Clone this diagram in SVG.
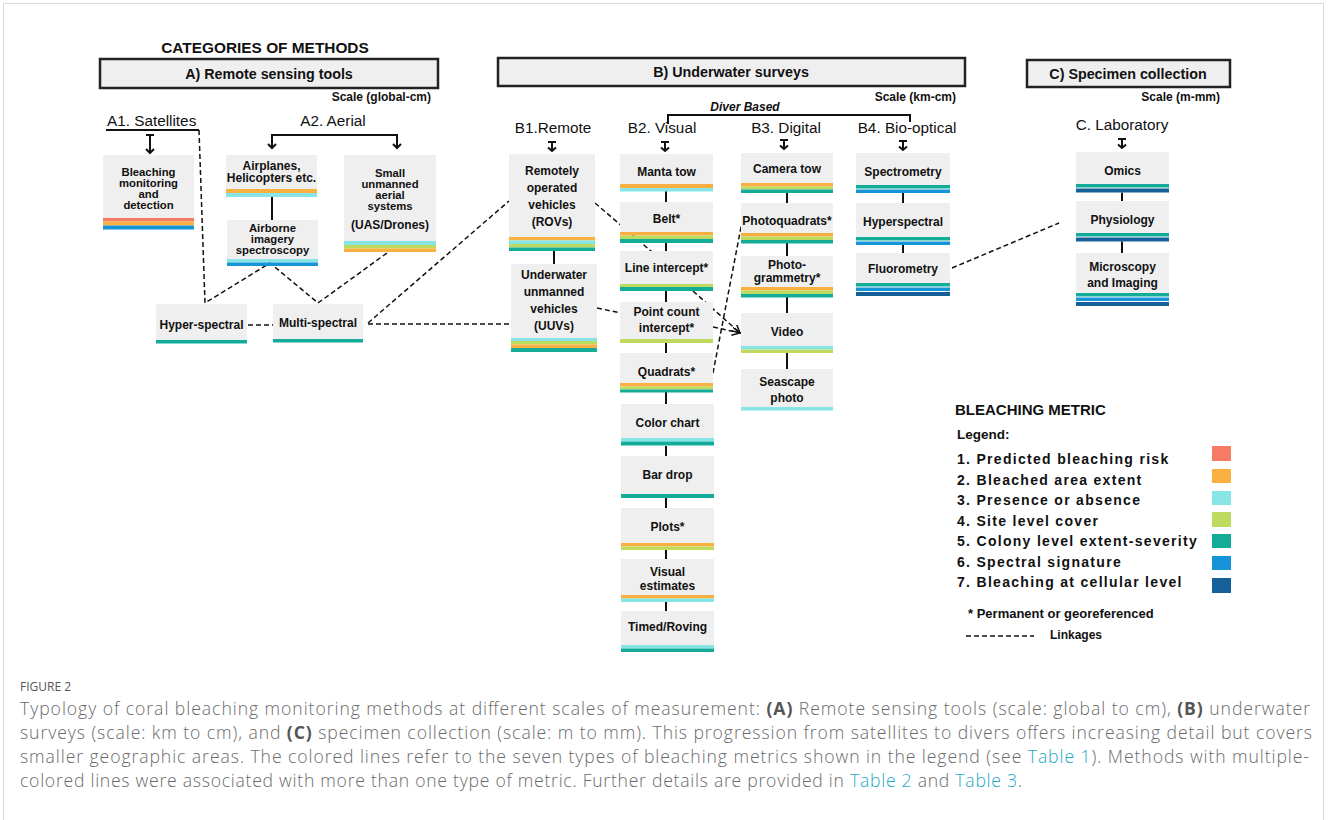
<svg xmlns="http://www.w3.org/2000/svg" width="1328" height="820" viewBox="0 0 1328 820">
<style>
.bx{fill:#efefef}
.hd{fill:#efefef;stroke:#222;stroke-width:2.5}
.t{font-family:"Liberation Sans",Arial,sans-serif;font-weight:bold;font-size:12px;fill:#111;text-anchor:middle}
.tt{font-size:11.3px}
.h{font-family:"Liberation Sans",Arial,sans-serif;font-weight:bold;fill:#111}
.r{font-family:"Liberation Sans",Arial,sans-serif;font-size:15.3px;fill:#111}
.sc{font-family:"Liberation Sans",Arial,sans-serif;font-weight:bold;font-size:12px;fill:#111;text-anchor:end}
.s1{fill:#f57b62}.s2{fill:#f9b040}.s3{fill:#87e5e5}.s4{fill:#bfdb5f}.s5{fill:#12ac98}.s6{fill:#1595d7}.s7{fill:#16609a}
.ln{stroke:#111;stroke-width:2;fill:none}
.dl{stroke:#111;stroke-width:1.5;stroke-dasharray:5 3;fill:none}
.ar{stroke:#111;stroke-width:2;fill:none}
.lg{font-family:"Liberation Sans",Arial,sans-serif;font-weight:bold;font-size:14px;letter-spacing:1.3px;fill:#111}
.cap{font-family:"Open Sans","Liberation Sans",sans-serif;font-weight:300;font-size:17.6px;fill:#6a6a6a}
.cb{font-weight:bold;fill:#555}
.lk{fill:#22a9c4}
</style>
<defs>
<marker id="ah" markerWidth="10" markerHeight="10" refX="8" refY="4" orient="auto" markerUnits="userSpaceOnUse">
<path d="M0,0 L8,4 L0,8" fill="none" stroke="#111" stroke-width="1.5"/>
</marker>
</defs>
<rect x="3.5" y="3.5" width="1320" height="840" fill="#fff" stroke="#d9d9d9" stroke-width="1"/>

<!-- headers -->
<g id="title">
<text class="h" x="265" y="53" font-size="15.4" text-anchor="middle">CATEGORIES OF METHODS</text>
</g>
<g id="hdrA">
<rect class="hd" x="100" y="59" width="338" height="29"/>
<text class="h" x="269" y="78.5" font-size="14.3" text-anchor="middle">A) Remote sensing tools</text>
<text class="sc" x="431" y="101">Scale (global-cm)</text>
</g>
<g id="hdrB">
<rect class="hd" x="498" y="58" width="467" height="28"/>
<text class="h" x="731" y="77" font-size="14.3" text-anchor="middle">B) Underwater surveys</text>
<text class="sc" x="956" y="101">Scale (km-cm)</text>
<text class="h" x="745" y="111" font-size="12" font-style="italic" text-anchor="middle">Diver Based</text>
</g>
<g id="hdrC">
<rect class="hd" x="1027" y="60" width="203" height="27"/>
<text class="h" x="1128" y="78.5" font-size="14.3" text-anchor="middle">C) Specimen collection</text>
<text class="sc" x="1220" y="101">Scale (m-mm)</text>
</g>

<!-- sub-category labels -->
<g id="labels">
<text class="r" x="107" y="126" font-size="15.4">A1. Satellites</text>
<text class="r" x="333" y="126" text-anchor="middle">A2. Aerial</text>
<text class="r" x="553" y="133" text-anchor="middle">B1.Remote</text>
<text class="r" x="662" y="133" text-anchor="middle">B2. Visual</text>
<text class="r" x="786" y="133" text-anchor="middle">B3. Digital</text>
<text class="r" x="907" y="133" text-anchor="middle">B4. Bio-optical</text>
<text class="r" x="1122" y="130" text-anchor="middle">C. Laboratory</text>
</g>

<g id="connectors">
<path class="ln" d="M106,130 H199"/>
<path class="ar" d="M146,135 H154 M150,135 V153 M146,149 L150,153 L154,149"/>
<path class="ar" d="M272,148 V135 H397 V148 M268,144 L272,148 L276,144 M393,144 L397,148 L401,144"/>
<path class="ln" d="M668,124 V115 H910 V122"/>
<path class="ar" d="M548,142 H556 M552,142 V151 M548,147.5 L552,151 L556,147.5"/>
<path class="ar" d="M661,142 H669 M665,142 V151 M661,147.5 L665,151 L669,147.5"/>
<path class="ar" d="M780,140 H788 M784,140 V149 M780,145.5 L784,149 L788,145.5"/>
<path class="ar" d="M899,141 H907 M903,141 V150 M899,146.5 L903,150 L907,146.5"/>
<path class="ar" d="M1118,139 H1126 M1122,139 V148 M1118,144.5 L1122,148 L1126,144.5"/>
<path class="ln" d="M272,197 V220"/>
<path class="ln" d="M554,251 V264"/>
<path class="ln" d="M666,191 V202 M666,243 V251 M666,291 V302 M666,343 V353 M666,392 V404 M666,446 V456 M666,498 V508 M666,550 V559 M666,602 V611"/>
<path class="ln" d="M787,193 V203 M787,243 V256 M787,297 V313 M787,353 V369"/>
<path class="ln" d="M903,193 V203 M903,245 V253"/>
<path class="ln" d="M1122,192.5 V201 M1122,241.5 V253"/>
<path class="dl" d="M199,130 L205,303 L270,263 L318,303 L387,253"/>
<path class="dl" d="M248,325 H273"/>
<path class="dl" d="M368,324 H511"/>
<path class="dl" d="M368,323 L509,201"/>
<path class="dl" d="M595,203 L652,252"/>
<path class="dl" d="M597,308 L621,313"/>
<path class="dl" d="M693,291 L740,333" marker-end="url(#ah)"/>
<path class="dl" d="M713,327 L740,333" marker-end="url(#ah)"/>
<path class="dl" d="M713,373 L742,222"/>
<path class="dl" d="M952,268 L1059,223"/>
</g>

<!-- A nodes -->
<g id="bleach">
<rect class="bx" x="103" y="155" width="91" height="63"/>
<rect class="s1" x="103" y="218" width="91" height="3.5"/><rect class="s2" x="103" y="221.5" width="91" height="4"/><rect class="s6" x="103" y="225.5" width="91" height="4"/>
<text class="t tt" x="148.5" y="176">Bleaching</text><text class="t tt" x="148.5" y="187">monitoring</text><text class="t tt" x="148.5" y="198">and</text><text class="t tt" x="148.5" y="209">detection</text>
</g>
<g id="airplanes">
<rect class="bx" x="226" y="155" width="91" height="34"/>
<rect class="s2" x="226" y="189" width="91" height="4"/><rect class="s3" x="226" y="193" width="91" height="4"/>
<text class="t" x="271.5" y="170">Airplanes,</text><text class="t" x="271.5" y="182">Helicopters etc.</text>
</g>
<g id="airborne">
<rect class="bx" x="227" y="220" width="91" height="39"/>
<rect class="s3" x="227" y="259" width="91" height="3.5"/><rect class="s6" x="227" y="262.5" width="91" height="3.5"/>
<text class="t tt" x="272.5" y="232">Airborne</text><text class="t tt" x="272.5" y="243">imagery</text><text class="t tt" x="272.5" y="254">spectroscopy</text>
</g>
<g id="uas">
<rect class="bx" x="344" y="155" width="92" height="86"/>
<rect class="s3" x="344" y="241" width="92" height="4"/><rect class="s4" x="344" y="245" width="92" height="3.5"/><rect class="s2" x="344" y="248.5" width="92" height="3.5"/>
<text class="t tt" x="390" y="177">Small</text><text class="t tt" x="390" y="188">unmanned</text><text class="t tt" x="390" y="199">aerial</text><text class="t tt" x="390" y="210">systems</text><text class="t" x="390" y="229">(UAS/Drones)</text>
</g>
<g id="hyper">
<rect class="bx" x="156" y="304" width="91" height="36"/>
<rect class="s5" x="156" y="340" width="91" height="3.5"/>
<text class="t" x="201.5" y="329">Hyper-spectral</text>
</g>
<g id="multi">
<rect class="bx" x="273" y="304" width="90" height="35"/>
<rect class="s5" x="273" y="339" width="90" height="3.5"/>
<text class="t" x="318" y="327">Multi-spectral</text>
</g>

<!-- B1 -->
<g id="rov">
<rect class="bx" x="509" y="154" width="86" height="83"/>
<rect class="s2" x="509" y="237" width="86" height="3.5"/><rect class="s3" x="509" y="240.5" width="86" height="3.5"/><rect class="s4" x="509" y="244" width="86" height="3.5"/><rect class="s5" x="509" y="247.5" width="86" height="3.5"/>
<text class="t" x="552" y="175">Remotely</text><text class="t" x="552" y="192">operated</text><text class="t" x="552" y="209">vehicles</text><text class="t" x="552" y="226">(ROVs)</text>
</g>
<g id="uuv">
<rect class="bx" x="511" y="264" width="86" height="74"/>
<rect class="s3" x="511" y="338" width="86" height="3"/><rect class="s4" x="511" y="341" width="86" height="3.5"/><rect class="s2" x="511" y="344.5" width="86" height="3.5"/><rect class="s5" x="511" y="348" width="86" height="4"/>
<text class="t" x="554" y="279">Underwater</text><text class="t" x="554" y="296">unmanned</text><text class="t" x="554" y="313">vehicles</text><text class="t" x="554" y="330">(UUVs)</text>
</g>

<!-- B2 -->
<g id="manta">
<rect class="bx" x="620" y="154" width="93" height="30"/>
<rect class="s2" x="620" y="184" width="93" height="4"/><rect class="s3" x="620" y="188" width="93" height="3.5"/>
<text class="t" x="666.5" y="176">Manta tow</text>
</g>
<g id="belt">
<rect class="bx" x="620" y="202" width="93" height="30"/>
<rect class="s2" x="620" y="232" width="93" height="3.5"/><rect class="s4" x="620" y="235.5" width="93" height="3.5"/><rect class="s5" x="620" y="239" width="93" height="4"/>
<text class="t" x="666.5" y="223">Belt*</text>
</g>
<g id="lineint">
<rect class="bx" x="620" y="251" width="93" height="33"/>
<rect class="s4" x="620" y="284" width="93" height="3"/><rect class="s5" x="620" y="287" width="93" height="4"/>
<text class="t" x="666.5" y="272">Line intercept*</text>
</g>
<g id="pointcount">
<rect class="bx" x="620" y="302" width="93" height="37"/>
<rect class="s4" x="620" y="339" width="93" height="4"/>
<text class="t" x="666.5" y="316">Point count</text><text class="t" x="666.5" y="332">intercept*</text>
</g>
<g id="quadrats">
<rect class="bx" x="620" y="353" width="93" height="30"/>
<rect class="s2" x="620" y="383" width="93" height="3.5"/><rect class="s4" x="620" y="386.5" width="93" height="3"/><rect class="s5" x="620" y="389.5" width="93" height="3"/>
<text class="t" x="666.5" y="376">Quadrats*</text>
</g>
<g id="colorchart">
<rect class="bx" x="621" y="404" width="93" height="34"/>
<rect class="s3" x="621" y="438" width="93" height="3.5"/><rect class="s5" x="621" y="441.5" width="93" height="4"/>
<text class="t" x="667.5" y="427">Color chart</text>
</g>
<g id="bardrop">
<rect class="bx" x="621" y="456" width="93" height="38"/>
<rect class="s5" x="621" y="494" width="93" height="4"/>
<text class="t" x="667.5" y="479">Bar drop</text>
</g>
<g id="plots">
<rect class="bx" x="621" y="508" width="93" height="35"/>
<rect class="s2" x="621" y="543" width="93" height="3.5"/><rect class="s4" x="621" y="546.5" width="93" height="3.5"/>
<text class="t" x="667.5" y="531">Plots*</text>
</g>
<g id="visualest">
<rect class="bx" x="621" y="559" width="93" height="36"/>
<rect class="s2" x="621" y="595" width="93" height="3.5"/><rect class="s3" x="621" y="598.5" width="93" height="3.5"/>
<text class="t" x="667.5" y="576">Visual</text><text class="t" x="667.5" y="590">estimates</text>
</g>
<g id="timed">
<rect class="bx" x="621" y="611" width="93" height="34"/>
<rect class="s3" x="621" y="645" width="93" height="3.5"/><rect class="s5" x="621" y="648.5" width="93" height="3.5"/>
<text class="t" x="667.5" y="631">Timed/Roving</text>
</g>

<!-- B3 -->
<g id="cameratow">
<rect class="bx" x="741" y="153" width="92" height="30"/>
<rect class="s2" x="741" y="183" width="92" height="3.5"/><rect class="s4" x="741" y="186.5" width="92" height="3"/><rect class="s5" x="741" y="189.5" width="92" height="3.5"/>
<text class="t" x="787" y="173">Camera tow</text>
</g>
<g id="photoquadrats">
<rect class="bx" x="741" y="203" width="92" height="30"/>
<rect class="s2" x="741" y="233" width="92" height="3.5"/><rect class="s4" x="741" y="236.5" width="92" height="3.5"/><rect class="s5" x="741" y="240" width="92" height="3.5"/>
<text class="t" x="787" y="225">Photoquadrats*</text>
</g>
<g id="photogrammetry">
<rect class="bx" x="741" y="256" width="92" height="31"/>
<rect class="s2" x="741" y="287" width="92" height="3.5"/><rect class="s4" x="741" y="290.5" width="92" height="3.5"/><rect class="s5" x="741" y="294" width="92" height="3.5"/>
<text class="t" x="787" y="269">Photo-</text><text class="t" x="787" y="282">grammetry*</text>
</g>
<g id="video">
<rect class="bx" x="741" y="313" width="92" height="33"/>
<rect class="s3" x="741" y="346" width="92" height="3.5"/><rect class="s4" x="741" y="349.5" width="92" height="3.5"/>
<text class="t" x="787" y="336">Video</text>
</g>
<g id="seascape">
<rect class="bx" x="741" y="369" width="92" height="38"/>
<rect class="s3" x="741" y="407" width="92" height="3.5"/>
<text class="t" x="787" y="386">Seascape</text><text class="t" x="787" y="402">photo</text>
</g>

<!-- B4 -->
<g id="spectrometry">
<rect class="bx" x="856" y="153" width="94" height="32"/>
<rect class="s5" x="856" y="185" width="94" height="3.5"/><rect class="s6" x="856" y="189.5" width="94" height="3.5"/>
<text class="t" x="903" y="176">Spectrometry</text>
</g>
<g id="hyperspectral">
<rect class="bx" x="856" y="203" width="94" height="34"/>
<rect class="s5" x="856" y="237" width="94" height="3.5"/><rect class="s6" x="856" y="241.5" width="94" height="3.5"/>
<text class="t" x="903" y="226">Hyperspectral</text>
</g>
<g id="fluorometry">
<rect class="bx" x="856" y="253" width="94" height="30"/>
<rect class="s5" x="856" y="283" width="94" height="3.5"/><rect class="s6" x="856" y="287.5" width="94" height="3.5"/><rect class="s7" x="856" y="292" width="94" height="4"/>
<text class="t" x="903" y="273">Fluorometry</text>
</g>

<!-- C -->
<g id="omics">
<rect class="bx" x="1076" y="152" width="93" height="32"/>
<rect class="s5" x="1076" y="184" width="93" height="3.5"/><rect class="s7" x="1076" y="188.5" width="93" height="4"/>
<text class="t" x="1122.5" y="175">Omics</text>
</g>
<g id="physiology">
<rect class="bx" x="1076" y="201" width="93" height="32"/>
<rect class="s5" x="1076" y="233" width="93" height="3.5"/><rect class="s7" x="1076" y="237.5" width="93" height="4"/>
<text class="t" x="1122.5" y="224">Physiology</text>
</g>
<g id="microscopy">
<rect class="bx" x="1076" y="253" width="93" height="40"/>
<rect class="s5" x="1076" y="293" width="93" height="3.5"/><rect class="s6" x="1076" y="297.5" width="93" height="3.5"/><rect class="s7" x="1076" y="302" width="93" height="4"/>
<text class="t" x="1122.5" y="271">Microscopy</text><text class="t" x="1122.5" y="287">and Imaging</text>
</g>

<!-- legend -->
<g id="legend">
<text class="h" x="955" y="415" font-size="15">BLEACHING METRIC</text>
<text class="h" x="957" y="439" font-size="13.5">Legend:</text>
<text class="lg" x="957" y="464">1. Predicted bleaching risk</text>
<text class="lg" x="957" y="484.5">2. Bleached area extent</text>
<text class="lg" x="957" y="505">3. Presence or absence</text>
<text class="lg" x="957" y="525.5">4. Site level cover</text>
<text class="lg" x="957" y="546">5. Colony level extent-severity</text>
<text class="lg" x="957" y="566.5">6. Spectral signature</text>
<text class="lg" x="957" y="587">7. Bleaching at cellular level</text>
<rect class="s1" x="1212" y="446" width="19" height="15"/>
<rect class="s2" x="1212" y="469" width="19" height="14"/>
<rect class="s3" x="1212" y="491" width="19" height="14"/>
<rect class="s4" x="1212" y="512" width="19" height="15"/>
<rect class="s5" x="1212" y="534" width="19" height="14"/>
<rect class="s6" x="1212" y="556" width="19" height="14"/>
<rect class="s7" x="1212" y="578" width="19" height="15"/>
<text class="h" x="968" y="618" font-size="13">* Permanent or georeferenced</text>
<path class="dl" d="M966,636 H1034"/>
<text class="h" x="1050" y="639" font-size="12">Linkages</text>
</g>

<!-- caption -->
<g id="caption">
<text x="20" y="691" font-family="'Open Sans','Liberation Sans',sans-serif" font-size="12" fill="#555">FIGURE 2</text>
<text class="cap" x="20" y="715" textLength="1290" lengthAdjust="spacing">Typology of coral bleaching monitoring methods at different scales of measurement: <tspan class="cb">(A)</tspan> Remote sensing tools (scale: global to cm), <tspan class="cb">(B)</tspan> underwater</text>
<text class="cap" x="20" y="739" textLength="1292" lengthAdjust="spacing">surveys (scale: km to cm), and <tspan class="cb">(C)</tspan> specimen collection (scale: m to mm). This progression from satellites to divers offers increasing detail but covers</text>
<text class="cap" x="20" y="763" textLength="1289" lengthAdjust="spacing">smaller geographic areas. The colored lines refer to the seven types of bleaching metrics shown in the legend (see <tspan class="lk">Table 1</tspan>). Methods with multiple-</text>
<text class="cap" x="20" y="787" textLength="1002" lengthAdjust="spacing">colored lines were associated with more than one type of metric. Further details are provided in <tspan class="lk">Table 2</tspan> and <tspan class="lk">Table 3</tspan>.</text>
</g>
</svg>
